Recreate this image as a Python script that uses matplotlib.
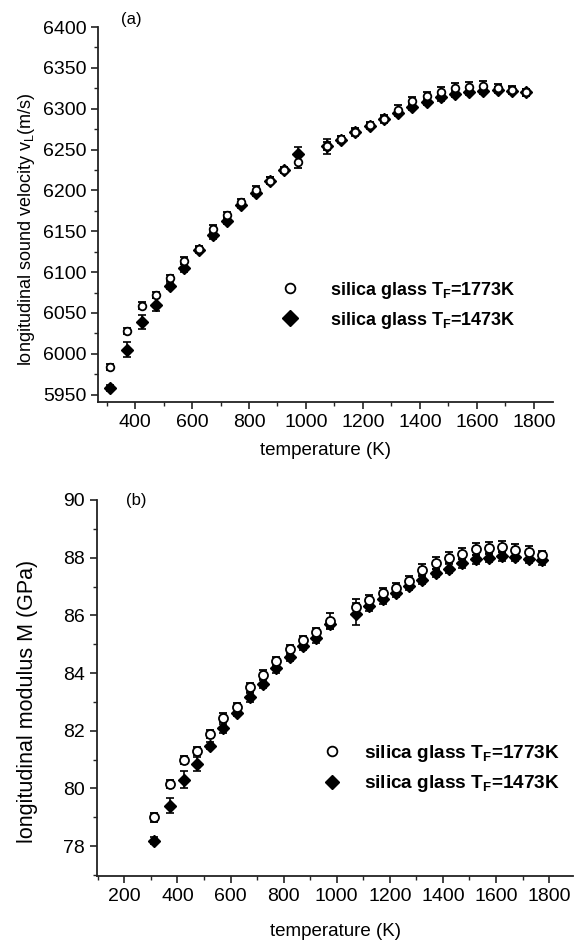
import numpy as np
import matplotlib
matplotlib.use("Agg")
import matplotlib.pyplot as plt
from matplotlib.ticker import MultipleLocator
from matplotlib.lines import Line2D

plt.rcParams['font.family'] = ['Liberation Sans', 'DejaVu Sans']
plt.rcParams['mathtext.fontset'] = 'custom'
plt.rcParams['mathtext.rm'] = 'Liberation Sans'
plt.rcParams['mathtext.bf'] = 'Liberation Sans:bold'
plt.rcParams['mathtext.default'] = 'regular'

# temperatures (K)
temps = [313, 373, 423, 473, 523, 573, 623, 673, 723, 773, 823, 873, 923, 973,
         1073, 1123, 1173, 1223, 1273, 1323, 1373, 1423, 1473, 1523, 1573,
         1623, 1673, 1723, 1773]

# (a) longitudinal sound velocity (m/s)
vel_1773 = [5984, 6028, 6059, 6072, 6093, 6114, 6128, 6153, 6170, 6186, 6201,
            6212, 6225, 6235, 6254, 6263, 6272, 6280, 6288, 6299, 6309, 6315,
            6321, 6325, 6327, 6328, 6325, 6323, 6320]
vel_1473 = [5958, 6005, 6039, 6060, 6083, 6105, 6127, 6145, 6163, 6182, 6197,
            6212, 6225, 6244, 6254, 6262, 6271, 6279, 6287, 6295, 6302, 6308,
            6314, 6318, 6321, 6322, 6323, 6322, 6320]
vel_err_1773 = [4, 4, 4, 4, 4, 4, 4, 5, 4, 4, 4, 4, 4, 8, 5, 4, 4, 4, 4, 5, 5,
                5, 5, 6, 6, 6, 5, 5, 4]
vel_err_1473 = [4, 9, 9, 8, 4, 5, 4, 5, 4, 4, 4, 4, 4, 9, 9, 4, 4, 4, 4, 4, 4,
                4, 4, 4, 4, 4, 4, 4, 4]

# (b) longitudinal modulus (GPa)
mod_1773 = [79.0, 80.15, 80.98, 81.3, 81.88, 82.45, 82.82, 83.5, 83.94, 84.4,
            84.82, 85.14, 85.42, 85.8, 86.3, 86.52, 86.78, 86.95, 87.2, 87.57,
            87.82, 88.0, 88.14, 88.3, 88.34, 88.38, 88.26, 88.2, 88.08]
mod_1473 = [78.18, 79.4, 80.3, 80.85, 81.47, 82.08, 82.62, 83.16, 83.62, 84.16,
            84.57, 84.94, 85.2, 85.7, 86.06, 86.31, 86.56, 86.78, 87.02, 87.24,
            87.47, 87.62, 87.8, 87.94, 88.0, 88.05, 88.03, 87.97, 87.91]
mod_err_1773 = [0.15, 0.15, 0.15, 0.15, 0.15, 0.15, 0.15, 0.15, 0.15, 0.15,
                0.15, 0.15, 0.15, 0.29, 0.25, 0.18, 0.18, 0.18, 0.18, 0.2, 0.2,
                0.2, 0.2, 0.2, 0.2, 0.2, 0.2, 0.2, 0.15]
mod_err_1473 = [0.12, 0.26, 0.29, 0.25, 0.12, 0.15, 0.12, 0.15, 0.15, 0.15,
                0.15, 0.15, 0.15, 0.15, 0.38, 0.15, 0.15, 0.15, 0.15, 0.15,
                0.15, 0.15, 0.15, 0.15, 0.15, 0.15, 0.15, 0.15, 0.15]

labels = [r'silica glass $\mathbf{T_F}$=1773K', r'silica glass $\mathbf{T_F}$=1473K']

W, H = 574, 949
fig = plt.figure(figsize=(W / 100, H / 100), dpi=100)


def px_axes(left, top, right, bottom):
    return fig.add_axes([left / W, 1 - bottom / H, (right - left) / W, (bottom - top) / H])


def style(ax):
    for s in ['top', 'right']:
        ax.spines[s].set_visible(False)
    for s in ['left', 'bottom']:
        ax.spines[s].set_linewidth(1.3)
        ax.spines[s].set_color('#222222')
    ax.tick_params(which='major', direction='out', length=5, width=1.2,
                   labelsize=14, color='#222222')
    ax.tick_params(which='minor', direction='out', length=3, width=1.0, color='#222222')


def draw(ax, y1, e1, y2, e2, ms_o, ms_d):
    ax.errorbar(temps, y2, yerr=e2, fmt='D', ms=ms_d, mfc='black', mec='black',
                ecolor='black', elinewidth=1.2, capsize=3, capthick=1.2, zorder=2)
    ax.errorbar(temps, y1, yerr=e1, fmt='o', ms=ms_o, mfc='white', mec='black',
                mew=1.3, ecolor='black', elinewidth=1.2, capsize=3, capthick=1.2, zorder=3)


# ---- panel (a)
ax1 = px_axes(98, 27, 553, 402)
draw(ax1, vel_1773, vel_err_1773, vel_1473, vel_err_1473, 5.5, 6)
ax1.set_xlim(270, 1867)
ax1.set_ylim(5941, 6400)
ax1.xaxis.set_major_locator(MultipleLocator(200))
ax1.xaxis.set_minor_locator(MultipleLocator(100))
ax1.yaxis.set_major_locator(MultipleLocator(50))
ax1.yaxis.set_minor_locator(MultipleLocator(25))
style(ax1)
ax1.set_xlabel('temperature (K)', fontsize=13.5, labelpad=8)
ax1.set_ylabel(r'longitudinal sound velocity v$_L$(m/s)', fontsize=13)
ax1.yaxis.set_label_coords(-0.134, 0.46)
ax1.text(0.05, 1.02, '(a)', transform=ax1.transAxes, fontsize=12, va='center')

# ---- panel (b)
ax2 = px_axes(97, 500, 573, 876)
draw(ax2, mod_1773, mod_err_1773, mod_1473, mod_err_1473, 6.5, 6.5)
ax2.set_xlim(97, 1890)
ax2.set_ylim(76.96, 90)
ax2.xaxis.set_major_locator(MultipleLocator(200))
ax2.xaxis.set_minor_locator(MultipleLocator(100))
ax2.yaxis.set_major_locator(MultipleLocator(2))
ax2.yaxis.set_minor_locator(MultipleLocator(1))
style(ax2)
ax2.set_xlabel('temperature (K)', fontsize=13.5, labelpad=13)
ax2.set_ylabel('longitudinal modulus M (GPa)', fontsize=15.5)
ax2.yaxis.set_label_coords(-0.124, 0.465)
ax2.text(0.06, 1.0, '(b)', transform=ax2.transAxes, fontsize=12, va='center')

# legends
for ax, loc, fs, pad, ms_d in [(ax1, (0.347, 0.258), 13, 1.2, 8), (ax2, (0.417, 0.286), 13.7, 0.7, 7)]:
    handles = [Line2D([], [], ls='none', marker='o', ms=7, mfc='white', mec='black', mew=1.3),
               Line2D([], [], ls='none', marker='D', ms=ms_d, mfc='black', mec='black')]
    ax.legend(handles, labels, loc='center left', bbox_to_anchor=loc, frameon=False,
              prop={'weight': 'bold', 'size': fs}, handletextpad=pad, labelspacing=0.5)

fig.savefig('out.png', dpi=100)
